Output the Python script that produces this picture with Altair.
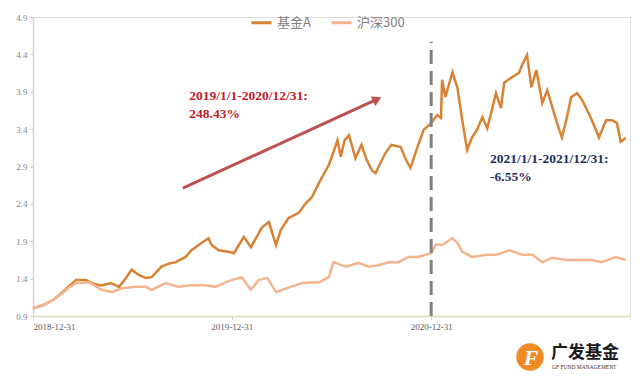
import altair as alt
import pandas as pd

# ---- data ----
fund_dates = ["2018-12-31","2019-01-20","2019-02-07","2019-02-22","2019-03-07","2019-03-20","2019-04-07",
              "2019-04-22","2019-05-06","2019-05-23","2019-06-07","2019-06-19","2019-06-30","2019-07-13",
              "2019-07-26","2019-08-06","2019-08-24","2019-09-06","2019-09-19","2019-10-07","2019-10-18",
              "2019-11-06","2019-11-18","2019-11-24","2019-12-07","2019-12-25","2020-01-04","2020-01-22",
              "2020-02-04","2020-02-24","2020-03-08","2020-03-21","2020-03-30","2020-04-13","2020-05-02",
              "2020-05-15","2020-05-26","2020-06-08","2020-06-26","2020-07-05","2020-07-12","2020-07-18",
              "2020-07-25","2020-08-02","2020-08-14","2020-08-25","2020-09-03","2020-09-13","2020-09-20",
              "2020-09-29","2020-10-08","2020-10-19","2020-11-05","2020-11-14","2020-11-23","2020-12-04",
              "2020-12-17","2020-12-31","2021-01-11","2021-01-18","2021-01-20","2021-01-26","2021-02-08",
              "2021-02-17","2021-02-26","2021-03-07","2021-03-16","2021-03-25","2021-04-04","2021-04-13",
              "2021-04-29","2021-05-08","2021-05-14","2021-05-29","2021-06-10","2021-06-16","2021-06-25",
              "2021-07-03","2021-07-12","2021-07-23","2021-08-01","2021-08-10","2021-08-19","2021-08-28",
              "2021-09-05","2021-09-14","2021-09-25","2021-10-04","2021-10-13","2021-10-22","2021-11-04",
              "2021-11-17","2021-11-28","2021-12-07","2021-12-14","2021-12-23"]
fund_values = [1.00,1.05,1.12,1.21,1.30,1.38,1.38,
               1.33,1.31,1.34,1.29,1.40,1.52,1.45,
               1.41,1.42,1.56,1.60,1.62,1.69,1.78,
               1.88,1.94,1.85,1.78,1.76,1.74,1.96,
               1.82,2.08,2.16,1.85,2.05,2.21,2.28,
               2.41,2.49,2.68,2.92,3.10,3.25,3.03,
               3.25,3.32,3.01,3.19,3.00,2.85,2.81,
               2.95,3.08,3.19,3.16,3.00,2.88,3.12,
               3.39,3.48,3.59,3.55,4.06,3.83,4.16,
               3.96,3.52,3.12,3.29,3.39,3.56,3.41,
               3.88,3.68,4.02,4.10,4.15,4.26,4.39,
               3.96,4.19,3.75,3.92,3.70,3.48,3.29,
               3.52,3.83,3.88,3.79,3.66,3.52,3.29,
               3.52,3.52,3.48,3.23,3.28]

hs_dates = ["2018-12-31","2019-01-20","2019-02-07","2019-02-22","2019-03-07","2019-03-20","2019-04-13",
            "2019-04-25","2019-05-06","2019-05-25","2019-06-12","2019-07-08","2019-07-26","2019-08-06",
            "2019-08-31","2019-09-24","2019-10-18","2019-11-12","2019-12-01","2019-12-19","2019-12-31",
            "2020-01-18","2020-02-04","2020-02-18","2020-03-05","2020-03-21","2020-04-09","2020-05-08",
            "2020-06-08","2020-06-26","2020-07-05","2020-07-27","2020-08-20","2020-09-07","2020-09-25",
            "2020-10-14","2020-11-01","2020-11-19","2020-12-07","2020-12-31","2021-01-09","2021-01-20",
            "2021-02-08","2021-02-17","2021-02-26","2021-03-16","2021-04-12","2021-04-29","2021-05-24",
            "2021-06-16","2021-07-05","2021-07-23","2021-08-10","2021-09-05","2021-09-29","2021-10-22",
            "2021-11-09","2021-12-05","2021-12-23"]
hs_values = [1.00,1.05,1.12,1.20,1.28,1.34,1.35,
             1.30,1.25,1.22,1.27,1.29,1.29,1.25,
             1.34,1.29,1.31,1.31,1.29,1.35,1.38,
             1.42,1.25,1.38,1.41,1.22,1.27,1.34,
             1.35,1.42,1.62,1.56,1.61,1.56,1.58,
             1.62,1.62,1.69,1.69,1.74,1.86,1.85,
             1.94,1.88,1.76,1.69,1.72,1.72,1.78,
             1.72,1.72,1.62,1.68,1.65,1.65,1.65,
             1.62,1.69,1.65]

series_names = ["基金A", "沪深300"]
series_colors = ["#DA8234", "#F5B38E"]
y_ticks = [0.9, 1.4, 1.9, 2.4, 2.9, 3.4, 3.9, 4.4, 4.9]
x_tick_dates = [(2018, 12, 31), (2019, 12, 31), (2020, 12, 31)]

arrow_dates = ["2019-10-02", "2020-09-23"]
arrow_values = [2.61, 3.80]
split_date = "2020-12-31"
split_top = 4.57
note1_text = "2019/1/1-2020/12/31:\n248.43%"
note1_pos = ("2019-10-14", 3.94)
note2_text = "2021/1/1-2021/12/31:\n-6.55%"
note2_pos = ("2021-04-18", 3.09)

# ---- tables ----
lines_df = pd.concat([
    pd.DataFrame({"date": fund_dates, "value": fund_values, "series": series_names[0]}),
    pd.DataFrame({"date": hs_dates, "value": hs_values, "series": series_names[1]}),
])

serif = "Liberation Serif"
xscale = alt.Scale(type="utc", domain=[alt.DateTime(year=2018, month=12, date=31, utc=True),
                                       alt.DateTime(year=2021, month=12, date=31, utc=True)])
yscale = alt.Scale(domain=[0.9, 4.9], nice=False, zero=False)

x_axis = alt.Axis(values=[alt.DateTime(year=y, month=m, date=d, utc=True) for (y, m, d) in x_tick_dates],
                  labelExpr="utcFormat(datum.value, '%Y-%m-%d')", title=None, grid=False,
                  domainColor="#D8DDB8", domainWidth=1.5, tickColor="#C8C8C8", tickSize=3,
                  labelFont=serif, labelFontSize=9, labelColor="#595959", labelPadding=3,
                  labelOverlap=False, tickCount=20)
y_axis = alt.Axis(values=y_ticks, labelExpr="format(datum.value, '.1f')", title=None, grid=False,
                  domainColor="#D9D3CC", domainWidth=1.5, tickColor="#C8C8C8", tickSize=3,
                  labelFont=serif, labelFontSize=9, labelColor="#7F7F7F", labelPadding=3,
                  labelOverlap=False, labelBound=False, tickCount=20)

lines = alt.Chart(lines_df).mark_line(strokeWidth=2.5, interpolate="linear").encode(
    x=alt.X("date:T", scale=xscale, axis=x_axis),
    y=alt.Y("value:Q", scale=yscale, axis=y_axis),
    color=alt.Color("series:N", sort=series_names,
                    scale=alt.Scale(domain=series_names, range=series_colors),
                    legend=alt.Legend(orient="none", legendX=217, legendY=-6, direction="horizontal",
                                      title=None, symbolType="stroke", symbolSize=400,
                                      symbolStrokeWidth=3, labelFont="Noto Sans CJK SC",
                                      labelFontSize=13, labelColor="#7F7F7F", columnPadding=14,
                                      labelOffset=4)),
    order=alt.Order("series:N", sort="descending"),
)

split_df = pd.DataFrame({"date": [split_date], "y0": [0.9], "y1": [split_top]})
split = alt.Chart(split_df).mark_rule(color="#7F7F7F", strokeWidth=3, strokeDash=[14, 7]).encode(
    x=alt.X("date:T", scale=xscale), y=alt.Y("y0:Q", scale=yscale), y2="y1:Q")

arrow_df = pd.DataFrame({"d0": [arrow_dates[0]], "v0": [arrow_values[0]],
                         "d1": [arrow_dates[1]], "v1": [arrow_values[1]]})
arrow_line = alt.Chart(arrow_df).mark_rule(color="#C0504D", strokeWidth=3).encode(
    x=alt.X("d0:T", scale=xscale), y=alt.Y("v0:Q", scale=yscale), x2="d1:T", y2="v1:Q")
arrow_head = alt.Chart(arrow_df).mark_point(shape="triangle-right", filled=True, size=110,
                                            color="#C0504D", opacity=1, angle=335).encode(
    x=alt.X("d1:T", scale=xscale), y=alt.Y("v1:Q", scale=yscale))

notes_df = pd.DataFrame({"date": [note1_pos[0], note2_pos[0]], "value": [note1_pos[1], note2_pos[1]],
                         "text": [note1_text, note2_text], "color": ["#C0232B", "#1F2F5E"]})
notes = alt.Chart(notes_df).mark_text(align="left", baseline="top", font=serif, fontSize=13.5,
                                      fontWeight="bold", lineBreak="\n", lineHeight=18).encode(
    x=alt.X("date:T", scale=xscale), y=alt.Y("value:Q", scale=yscale),
    text="text:N", color=alt.Color("color:N", scale=None))

# ---- logo (decorative) ----
logo_df = pd.DataFrame({"k": [0]})
logo_icon = alt.Chart(logo_df).mark_point(shape="circle", filled=True, size=750, color="#F08A24",
                                          opacity=1).encode(x=alt.value(497), y=alt.value(340))
logo_f = alt.Chart(logo_df).mark_text(text="F", font=serif, fontSize=22, fontWeight="bold",
                                      fontStyle="italic", color="white").encode(
    x=alt.value(498), y=alt.value(341))
logo_cn = alt.Chart(logo_df).mark_text(text="广发基金", font="Noto Sans CJK SC", fontSize=17,
                                       fontWeight="bold", color="#1A1A1A", align="left").encode(
    x=alt.value(518), y=alt.value(336))
logo_en = alt.Chart(logo_df).mark_text(text="GF FUND MANAGEMENT", font=serif, fontSize=5.5,
                                       color="#333333", align="left").encode(
    x=alt.value(519), y=alt.value(350))

chart = alt.layer(lines, split, arrow_line, arrow_head, notes, logo_icon, logo_f, logo_cn, logo_en).properties(
    width=597, height=299,
    autosize=alt.AutoSizeParams(type="none"),
    padding={"left": 25, "top": 9, "right": 2, "bottom": 58},
).configure_view(stroke=None).configure(background="white")

chart.save("out.html", embed_options={"renderer": "svg", "actions": False})
